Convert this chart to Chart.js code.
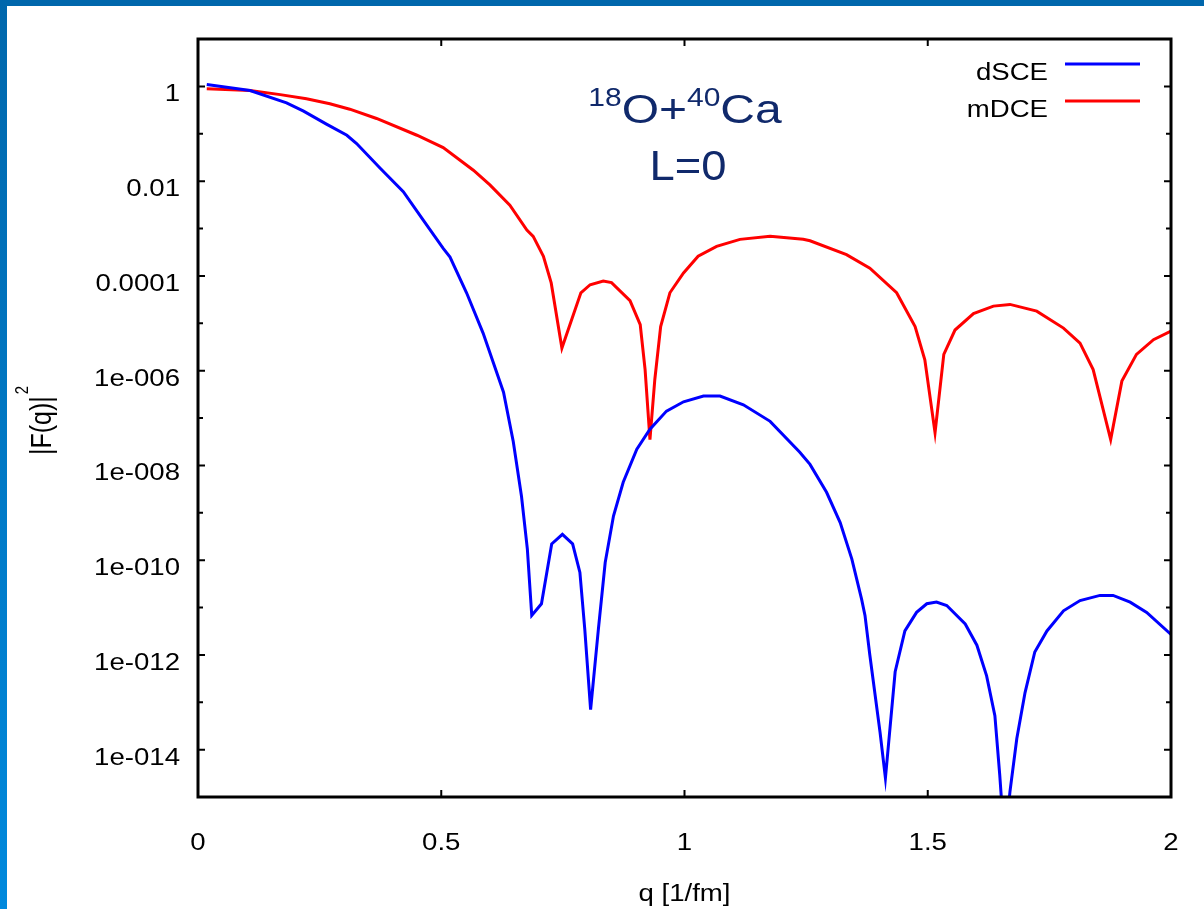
<!DOCTYPE html>
<html>
<head>
<meta charset="utf-8">
<script src="https://cdn.jsdelivr.net/npm/chart.js@4.4.1/dist/chart.umd.min.js"></script>
<style>
  html, body { margin: 0; padding: 0; background: #fff; overflow: hidden; }
  #wrap { position: relative; width: 1204px; height: 909px; }
  #topbar { position: absolute; left: 0; top: 0; width: 1204px; height: 6px; background: #0067ac; }
  #sidebar { position: absolute; left: 0; top: 0; width: 7px; height: 909px; background: linear-gradient(#0067ac, #0089dd); }
  canvas { position: absolute; left: 0; top: 0; }
</style>
</head>
<body>
<div id="wrap">
  <canvas id="formFactorChart" width="1204" height="909"></canvas>
  <div id="topbar"></div>
  <div id="sidebar"></div>
</div>
<script>
// =====================
// Data: |F(q)|^2 vs q [1/fm]
// =====================
const dsceQ = [0.018, 0.107, 0.182, 0.217, 0.264, 0.306, 0.326, 0.374, 0.422, 0.463,
  0.504, 0.518, 0.552, 0.586, 0.628, 0.648, 0.665, 0.677, 0.686, 0.706,
  0.727, 0.749, 0.770, 0.785, 0.795, 0.807, 0.823, 0.837, 0.854, 0.874,
  0.902, 0.929, 0.963, 0.998, 1.039, 1.073, 1.121, 1.176, 1.237, 1.258,
  1.292, 1.320, 1.344, 1.364, 1.371, 1.381, 1.402, 1.413, 1.433, 1.453,
  1.477, 1.498, 1.518, 1.539, 1.577, 1.601, 1.621, 1.638, 1.648, 1.658,
  1.669, 1.683, 1.700, 1.720, 1.745, 1.779, 1.813, 1.854, 1.881, 1.916,
  1.950, 2.000];
const dsceF = [1.10, 0.82, 0.45, 0.30, 0.16, 0.093, 0.062, 0.019, 6.0e-3, 1.5e-3,
  3.8e-4, 2.5e-4, 4.4e-5, 6.2e-6, 3.5e-7, 3.2e-8, 2.2e-9, 1.7e-10, 6.8e-12, 1.2e-11,
  2.2e-10, 3.5e-10, 2.2e-10, 5.5e-11, 3.5e-12, 7.0e-14, 3.5e-12, 8.9e-11, 8.5e-10, 4.4e-9,
  2.2e-8, 5.8e-8, 1.4e-7, 2.2e-7, 2.9e-7, 2.9e-7, 1.9e-7, 8.5e-8, 1.9e-8, 1.05e-8,
  2.7e-9, 6.2e-10, 1.05e-10, 1.5e-11, 6.8e-12, 9.8e-13, 2.3e-14, 2.5e-15, 4.4e-13, 3.2e-12,
  7.9e-12, 1.2e-11, 1.3e-11, 1.1e-11, 4.5e-12, 1.6e-12, 3.6e-13, 5.2e-14, 2.9e-15, 1.0e-16,
  1.3e-15, 1.7e-14, 1.6e-13, 1.15e-12, 3.2e-12, 8.5e-12, 1.4e-11, 1.8e-11, 1.8e-11, 1.3e-11,
  7.9e-12, 2.7e-12];

const mdceQ = [0.018, 0.107, 0.169, 0.223, 0.271, 0.312, 0.367, 0.450, 0.504, 0.566,
  0.600, 0.641, 0.676, 0.689, 0.710, 0.726, 0.748, 0.787, 0.806, 0.833,
  0.850, 0.888, 0.909, 0.919, 0.929, 0.939, 0.951, 0.970, 0.998, 1.028,
  1.066, 1.114, 1.176, 1.244, 1.258, 1.333, 1.381, 1.436, 1.474, 1.494,
  1.515, 1.533, 1.556, 1.594, 1.635, 1.669, 1.724, 1.779, 1.813, 1.840,
  1.876, 1.899, 1.929, 1.964, 2.000];
const mdceF = [0.89, 0.82, 0.67, 0.55, 0.43, 0.33, 0.21, 0.093, 0.051, 0.017,
  8.3e-3, 3.1e-3, 9.3e-4, 6.8e-4, 2.6e-4, 7.1e-5, 3.0e-6, 4.4e-5, 6.5e-5, 7.8e-5,
  7.2e-5, 3.0e-5, 9.3e-6, 1.05e-6, 3.5e-8, 6.5e-7, 8.5e-6, 4.4e-5, 1.15e-4, 2.6e-4,
  4.2e-4, 5.9e-4, 6.9e-4, 5.9e-4, 5.5e-4, 2.8e-4, 1.45e-4, 4.4e-5, 8.5e-6, 1.7e-6,
  4.9e-8, 2.2e-6, 7.2e-6, 1.6e-5, 2.3e-5, 2.5e-5, 1.8e-5, 7.9e-6, 3.8e-6, 1.05e-6,
  3.5e-8, 6.0e-7, 2.2e-6, 4.5e-6, 6.8e-6];

// axis ticks (gnuplot style labels)
const xTickValues = [0, 0.5, 1, 1.5, 2];
const xTickLabels = ['0', '0.5', '1', '1.5', '2'];
const yDecades = [10, 1, 1e-1, 1e-2, 1e-3, 1e-4, 1e-5, 1e-6, 1e-7, 1e-8,
  1e-9, 1e-10, 1e-11, 1e-12, 1e-13, 1e-14, 1e-15];
const yTickValues = [1, 1e-2, 1e-4, 1e-6, 1e-8, 1e-10, 1e-12, 1e-14];
const yTickLabels = ['1', '0.01', '0.0001', '1e-006', '1e-008', '1e-010', '1e-012', '1e-014'];

const seriesNames = ['dSCE', 'mDCE'];
const seriesColors = ['#0000ff', '#ff0000'];

const FONT = '"Liberation Sans", Arial, sans-serif';
const SX = 1.2; // plot text is a little wide

function toPoints(qs, fs) {
  return qs.map((q, i) => ({ x: q, y: fs[i] }));
}

function wideText(ctx, text, x, y, align, sx = SX) {
  ctx.save();
  ctx.translate(x, y);
  ctx.scale(sx, 1);
  ctx.textAlign = align;
  ctx.fillText(text, 0, 0);
  ctx.restore();
}

// =====================
// Frame, tick marks, labels, legend, title
// =====================
const framePlugin = {
  id: 'gnuFrame',
  afterDraw(chart) {
    const { ctx, chartArea: a, scales: { x, y } } = chart;
    ctx.save();

    // ticks inside the box
    ctx.strokeStyle = '#000';
    ctx.lineWidth = 2;
    y.ticks.forEach(t => {
      const py = y.getPixelForValue(t.value);
      const len = yTickValues.includes(t.value) ? 7 : 5;
      ctx.beginPath();
      ctx.moveTo(a.left, py); ctx.lineTo(a.left + len, py);
      ctx.moveTo(a.right, py); ctx.lineTo(a.right - len, py);
      ctx.stroke();
    });
    x.ticks.forEach(t => {
      const px = x.getPixelForValue(t.value);
      ctx.beginPath();
      ctx.moveTo(px, a.bottom); ctx.lineTo(px, a.bottom - 7);
      ctx.moveTo(px, a.top); ctx.lineTo(px, a.top + 7);
      ctx.stroke();
    });

    ctx.lineWidth = 3;
    ctx.strokeRect(a.left, a.top, a.right - a.left, a.bottom - a.top);

    // tick labels
    ctx.fillStyle = '#000';
    ctx.font = '23px ' + FONT;
    ctx.textBaseline = 'alphabetic';
    yTickValues.forEach((v, i) => {
      wideText(ctx, yTickLabels[i], 180, y.getPixelForValue(v) + 15, 'right');
    });
    xTickValues.forEach((v, i) => {
      wideText(ctx, xTickLabels[i], x.getPixelForValue(v), 850, 'center');
    });

    // axis titles
    wideText(ctx, 'q [1/fm]', (a.left + a.right) / 2, 901, 'center');
    ctx.save();
    ctx.translate(51, 455);
    ctx.rotate(-Math.PI / 2);
    ctx.scale(1, SX);
    ctx.font = '25px ' + FONT;
    ctx.textAlign = 'left';
    ctx.fillText('|F(q)|', 0, 0);
    const w = ctx.measureText('|F(q)|').width;
    ctx.font = '15px ' + FONT;
    ctx.fillText('2', w + 2, -19);
    ctx.restore();

    // legend
    ctx.font = '23px ' + FONT;
    const rows = [64, 101];
    seriesNames.forEach((name, i) => {
      wideText(ctx, name, 1048, rows[i] + 16, 'right');
      ctx.strokeStyle = seriesColors[i];
      ctx.lineWidth = 3;
      ctx.beginPath();
      ctx.moveTo(1065, rows[i]); ctx.lineTo(1140, rows[i]);
      ctx.stroke();
    });

    // reaction label
    ctx.fillStyle = '#10296b';
    const parts = [['18', true], ['O+', false], ['40', true], ['Ca', false]];
    const fontFor = sup => (sup ? '25px ' : '40px ') + FONT;
    let total = 0;
    parts.forEach(([s, sup]) => { ctx.font = fontFor(sup); total += ctx.measureText(s).width * SX; });
    let px = 685 - total / 2;
    parts.forEach(([s, sup]) => {
      ctx.font = fontFor(sup);
      wideText(ctx, s, px, sup ? 106 : 123, 'left');
      px += ctx.measureText(s).width * SX;
    });
    ctx.font = '42px ' + FONT;
    wideText(ctx, 'L=0', 688, 180, 'center', 1.08);

    ctx.restore();
  }
};

// =====================
// Chart
// =====================
const ctxEl = document.getElementById('formFactorChart');
new Chart(ctxEl.getContext('2d'), {
  type: 'line',
  data: {
    datasets: [
      { label: seriesNames[0], data: toPoints(dsceQ, dsceF), borderColor: seriesColors[0], borderWidth: 3, pointRadius: 0, tension: 0, fill: false },
      { label: seriesNames[1], data: toPoints(mdceQ, mdceF), borderColor: seriesColors[1], borderWidth: 3, pointRadius: 0, tension: 0, fill: false }
    ]
  },
  options: {
    responsive: false,
    animation: false,
    layout: { padding: { left: 0, top: 39, right: 33, bottom: 0 } },
    plugins: { legend: { display: false }, tooltip: { enabled: false } },
    scales: {
      x: {
        type: 'linear', min: 0, max: 2,
        ticks: { display: false },
        grid: { display: false },
        border: { display: false },
        afterBuildTicks: s => { s.ticks = xTickValues.map(v => ({ value: v })); },
        afterFit: s => { s.height = 112; }
      },
      y: {
        type: 'logarithmic', min: 1e-15, max: 10,
        ticks: { display: false },
        grid: { display: false },
        border: { display: false },
        afterBuildTicks: s => { s.ticks = yDecades.map(v => ({ value: v })); },
        afterFit: s => { s.width = 198; }
      }
    }
  },
  plugins: [framePlugin]
});
</script>
</body>
</html>
